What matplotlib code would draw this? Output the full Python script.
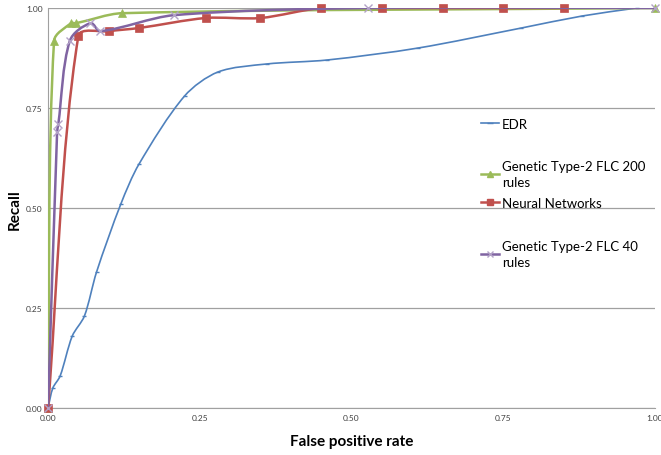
import numpy as np
import matplotlib
matplotlib.use('Agg')
import matplotlib.pyplot as plt
from matplotlib.path import Path
from matplotlib.patches import PathPatch
from matplotlib.lines import Line2D
from matplotlib.legend import Legend

# data
edr_x = [0.0, 0.008, 0.02, 0.04, 0.06, 0.08, 0.12, 0.15, 0.225, 0.28, 0.36, 0.46, 0.61, 0.78, 0.88, 0.97]
edr_y = [0.0, 0.05, 0.08, 0.18, 0.23, 0.34, 0.51, 0.61, 0.78, 0.84, 0.86, 0.87, 0.90, 0.95, 0.98, 1.0]

g200_x = [0.0, 0.01, 0.038, 0.046, 0.122, 1.0]
g200_y = [0.0, 0.918, 0.962, 0.962, 0.987, 1.0]

nn_x = [0.0, 0.05, 0.1, 0.15, 0.26, 0.35, 0.45, 0.55, 0.65, 0.75, 0.85]
nn_y = [0.0, 0.93, 0.942, 0.95, 0.975, 0.975, 1.0, 1.0, 1.0, 1.0, 1.0]

g40_x = [0.0, 0.015, 0.017, 0.036, 0.07, 0.086, 0.207, 0.527, 1.0]
g40_y = [0.0, 0.69, 0.71, 0.918, 0.962, 0.942, 0.982, 1.0, 1.0]

labels = ['EDR', 'Genetic Type-2 FLC 200\nrules', 'Neural Networks', 'Genetic Type-2 FLC 40\nrules']
colors = ['#4F81BD', '#9BBB59', '#C0504D', '#8064A2']
# vertical place of each legend entry (axes fraction)
leg_y = [0.71, 0.585, 0.5125, 0.385]

plt.rcParams['font.family'] = ['Lato', 'DejaVu Sans']

fig = plt.figure(figsize=(6.61, 4.56), dpi=100)
ax = fig.add_axes([48/661., 1 - 409/456., 607/661., 400/456.])
ax.set_xlim(0, 1)
ax.set_ylim(0, 1)

SX, SY = 607., 400.


def smooth_path(x, y, t=0.3):
    # excel-like smoothed line: bezier through the points
    p = np.column_stack([np.array(x) * SX, np.array(y) * SY])
    n = len(p)
    verts = [p[0]]
    codes = [Path.MOVETO]
    for i in range(n - 1):
        p1, p2 = p[i], p[i + 1]
        p0 = p[i - 1] if i > 0 else p1
        p3 = p[i + 2] if i + 2 < n else p2
        seg = np.hypot(*(p2 - p1))
        d1 = p2 - p0
        d2 = p3 - p1
        n1 = np.hypot(*d1)
        n2 = np.hypot(*d2)
        c1 = p1 + (d1 / n1 * seg * t if n1 > 0 else 0)
        c2 = p2 - (d2 / n2 * seg * t if n2 > 0 else 0)
        verts += [c1, c2, p2]
        codes += [Path.CURVE4] * 3
    v = np.array(verts)
    v[:, 0] /= SX
    v[:, 1] /= SY
    return Path(v, codes)


series = [(edr_x, edr_y, '_', 3, 1.2),
          (g200_x, g200_y, '^', 6, 1.8),
          (nn_x, nn_y, 's', 6, 1.8),
          (g40_x, g40_y, 'x', 6, 1.8)]

for k, (xs, ys, m, ms, lw) in enumerate(series):
    c = colors[k]
    ax.add_patch(PathPatch(smooth_path(xs, ys), fill=False, edgecolor=c, lw=lw, zorder=3 + k))
    mc = '#B3A2C7' if m == 'x' else c
    ax.plot(xs, ys, ls='none', marker=m, ms=ms, color=mc, mew=1.0 if m in 'x_' else 0.5,
            zorder=3 + k, clip_on=False)
    h = Line2D([], [], color=c, lw=lw, marker=m, ms=4, mfc=mc, mec=mc)
    lg = Legend(ax, [h], [labels[k]], loc='center left', bbox_to_anchor=(0.713, leg_y[k]),
                frameon=False, fontsize=9.5, handlelength=1.4, handletextpad=0.2,
                borderpad=0, borderaxespad=0)
    for t in lg.get_texts():
        t.set_linespacing(1.45)
    ax.add_artist(lg)

ax.set_xticks([0, 0.25, 0.5, 0.75, 1.0])
ax.set_yticks([0, 0.25, 0.5, 0.75, 1.0])
ax.set_xticklabels(['0.00', '0.25', '0.50', '0.75', '1.00'])
ax.set_yticklabels(['0.00', '0.25', '0.50', '0.75', '1.00'])
ax.tick_params(labelsize=6, colors='#404040', length=0, pad=4)
ax.grid(axis='y', color='#A0A0A0', lw=0.9)
ax.set_axisbelow(True)
for s in ['top', 'right']:
    ax.spines[s].set_visible(False)
ax.spines['left'].set_color('#A0A0A0')
ax.spines['bottom'].set_color('#A0A0A0')

ax.set_xlabel('False positive rate', fontsize=11, fontweight='bold', labelpad=10)
fig.text(15/661., 1 - 210/456., 'Recall', rotation=90, fontsize=11, fontweight='bold',
         ha='center', va='center')

fig.savefig('out.png', dpi=100)
